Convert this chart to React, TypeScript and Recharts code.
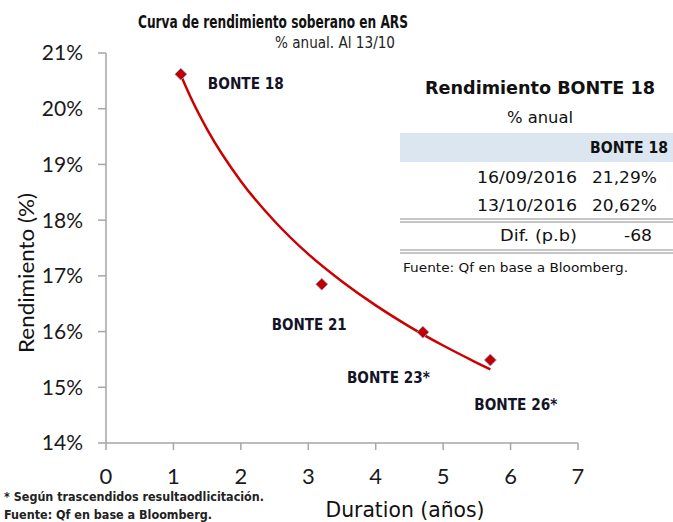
import React from "react";
import { ComposedChart, XAxis, YAxis, Line, Scatter } from "recharts";

// ---- data ----
const bondNames = ["BONTE 18", "BONTE 21", "BONTE 23*", "BONTE 26*"];
const bondDurations = [1.11, 3.2, 4.7, 5.7];
const bondYields = [20.62, 16.85, 15.99, 15.49];

const trendDurations = [1.11, 1.25, 1.5, 2, 2.5, 3, 3.5, 4, 4.5, 5, 5.5, 5.7];
const trendYields = [20.6, 20.22, 19.63, 18.7, 17.98, 17.39, 16.9, 16.47, 16.09, 15.75, 15.44, 15.32];

const xTicks = [0, 1, 2, 3, 4, 5, 6, 7];
const yTicks = [14, 15, 16, 17, 18, 19, 20, 21];

const chartTitle = "Curva de rendimiento soberano en ARS";
const chartSubtitle = "% anual.  Al 13/10";
const yAxisTitle = "Rendimiento (%)";
const xAxisTitle = "Duration (años)";

const tableTitle = "Rendimiento BONTE 18";
const tableSubtitle = "% anual";
const tableHeader = "BONTE 18";
const tableDates = ["16/09/2016", "13/10/2016"];
const tableValues = ["21,29%", "20,62%"];
const tableDiffLabel = "Dif. (p.b)";
const tableDiffValue = "-68";
const tableSource = "Fuente: Qf en base a Bloomberg.";
const footnotes = ["* Según trascendidos resultaodlicitación.", "Fuente: Qf en base a Bloomberg."];

const bondData = bondNames.map((name, i) => ({ name, x: bondDurations[i], y: bondYields[i] }));
const trendData = trendDurations.map((x, i) => ({ x, y: trendYields[i] }));

// ---- styles ----
const W = 673;
const H = 522;
const SANS = "'DejaVu Sans', Verdana, sans-serif";
const CAL = "Lato, 'Open Sans', sans-serif";
const AXIS_GREY = "#a6a6a6";
const RED = "#cc0000";

// label offsets relative to each point (pixels): [dx, dy, textLength]
const labelLayout: Record<string, [number, number, number]> = {
  "BONTE 18": [27, 15, 76],
  "BONTE 21": [-50, 46, 75],
  "BONTE 23*": [-76, 51, 83],
  "BONTE 26*": [-16, 50, 83],
};

const T = (p: {
  x: number; y: number; anchor?: "start" | "middle" | "end"; size: number; weight?: string | number;
  len?: number; family?: string; fill?: string; transform?: string; children: React.ReactNode;
}) => (
  <text
    x={p.x}
    y={p.y}
    textAnchor={p.anchor || "start"}
    fontSize={p.size}
    fontWeight={p.weight || "normal"}
    fontFamily={p.family || SANS}
    fill={p.fill || "#111"}
    transform={p.transform}
    {...(p.len ? { textLength: p.len, lengthAdjust: "spacingAndGlyphs" } : {})}
  >
    {p.children}
  </text>
);

const DiamondShape = (props: any) => {
  const { cx, cy, payload } = props;
  if (cx == null || cy == null) return null;
  const s = 6;
  const lay = labelLayout[payload?.name] || [10, 10, 0];
  return (
    <g>
      <polygon
        points={`${cx},${cy - s} ${cx + s},${cy} ${cx},${cy + s} ${cx - s},${cy}`}
        fill="#c00000"
        stroke="#8fa8d8"
        strokeWidth={0.8}
      />
      <text
        x={cx + lay[0]}
        y={cy + lay[1]}
        fontSize={16}
        fontWeight="bold"
        fontFamily={SANS}
        fill="#141428"
        textLength={lay[2]}
        lengthAdjust="spacingAndGlyphs"
      >
        {payload?.name}
      </text>
    </g>
  );
};

export default function App() {
  return (
    <div style={{ position: "absolute", left: 0, top: 0, width: W, height: H, background: "#fff" }}>
      <ComposedChart
        width={W}
        height={H}
        margin={{ top: 53, right: 95, bottom: 49, left: 46 }}
      >
        <XAxis
          type="number"
          dataKey="x"
          domain={[0, 7]}
          ticks={xTicks}
          allowDataOverflow
          stroke={AXIS_GREY}
          strokeWidth={1.5}
          tickSize={7}
          tickMargin={18}
          height={30}
          tick={{ fill: "#1a1a1a", fontSize: 22, fontFamily: CAL }}
        />
        <YAxis
          type="number"
          dataKey="y"
          domain={[14, 21]}
          ticks={yTicks}
          allowDataOverflow
          width={60}
          stroke={AXIS_GREY}
          strokeWidth={1.5}
          tickSize={8}
          tickMargin={15}
          tickFormatter={(v: number) => `${v}%`}
          tick={{ fill: "#1a1a1a", fontSize: 21, fontFamily: CAL }}
        />
        <Line
          data={trendData}
          dataKey="y"
          type="monotone"
          stroke={RED}
          strokeWidth={2.5}
          dot={false}
          activeDot={false}
          isAnimationActive={false}
          legendType="none"
        />
        <Scatter
          data={bondData}
          dataKey="y"
          shape={DiamondShape}
          isAnimationActive={false}
        />
      </ComposedChart>

      <svg
        width={W}
        height={H}
        style={{ position: "absolute", left: 0, top: 0, pointerEvents: "none" }}
      >
        {/* chart titles */}
        <T x={273} y={28} anchor="middle" size={18} weight="bold" len={270}>{chartTitle}</T>
        <T x={335} y={48} anchor="middle" size={16} len={120} fill="#222">{chartSubtitle}</T>

        {/* axis titles */}
        <T x={34} y={273} anchor="middle" size={22} family={CAL} len={160} transform="rotate(-90, 34, 273)">{yAxisTitle}</T>
        <T x={405} y={517} anchor="middle" size={21} len={159}>{xAxisTitle}</T>

        {/* side table */}
        <T x={540} y={94} anchor="middle" size={17} weight="bold" len={230}>{tableTitle}</T>
        <T x={540} y={123} anchor="middle" size={16} len={66}>{tableSubtitle}</T>
        <rect x={400} y={133} width={273} height={29} fill="#dce6f1" />
        <T x={590} y={153} size={15} weight="bold" len={78}>{tableHeader}</T>
        {tableDates.map((d, i) => (
          <T key={"d" + i} x={577} y={183 + i * 28} anchor="end" size={16} len={100}>{d}</T>
        ))}
        {tableValues.map((v, i) => (
          <T key={"v" + i} x={657} y={183 + i * 28} anchor="end" size={16} len={65}>{v}</T>
        ))}
        <line x1={400} x2={673} y1={219} y2={219} stroke="#8c8c8c" strokeWidth={1} />
        <line x1={400} x2={673} y1={222} y2={222} stroke="#8c8c8c" strokeWidth={1} />
        <T x={577} y={241} anchor="end" size={16} len={77}>{tableDiffLabel}</T>
        <T x={638} y={241} anchor="middle" size={16} len={28}>{tableDiffValue}</T>
        <line x1={400} x2={673} y1={250} y2={250} stroke="#8c8c8c" strokeWidth={1} />
        <line x1={400} x2={673} y1={253} y2={253} stroke="#8c8c8c" strokeWidth={1} />
        <T x={403} y={272} size={13} len={225}>{tableSource}</T>

        {/* footnotes */}
        <T x={4} y={501} size={12} weight="bold" len={260} fill="#222">{footnotes[0]}</T>
        <T x={4} y={519} size={12} weight="bold" len={208} fill="#222">{footnotes[1]}</T>
      </svg>
    </div>
  );
}
